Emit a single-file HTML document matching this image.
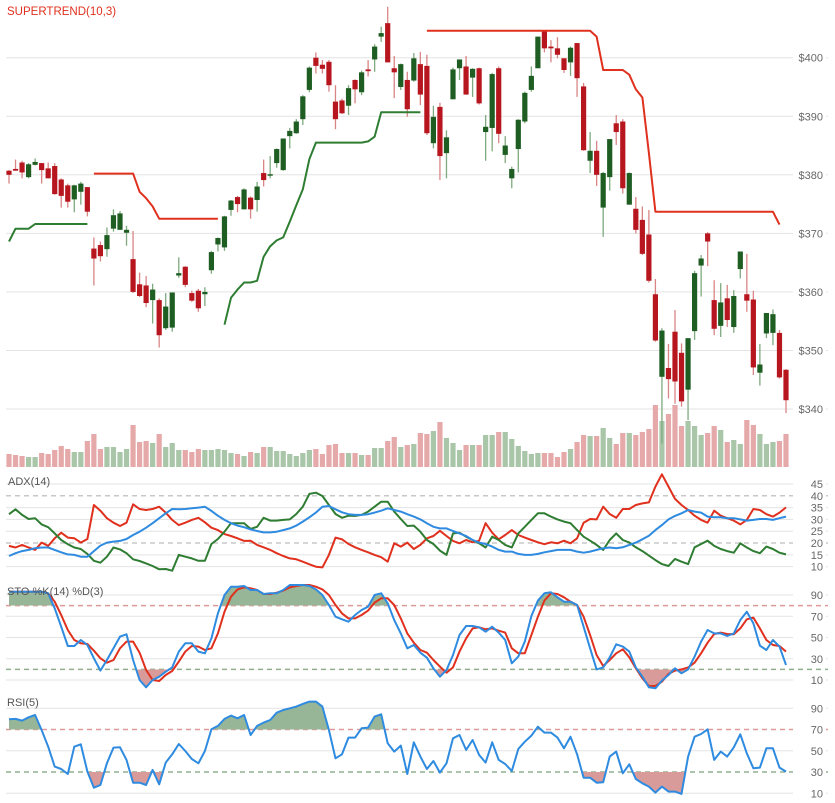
<!DOCTYPE html>
<html><head><meta charset="utf-8"><style>
html,body{margin:0;padding:0;background:#fff;}
svg{display:block;font-family:"Liberation Sans",sans-serif;}
</style></head><body>
<svg id="chart" width="835" height="803" viewBox="0 0 835 803" xmlns="http://www.w3.org/2000/svg">
<g id="grid"></g>
<g id="vol"></g>
<g id="candles"></g>
<g id="st"></g>
<g id="ind"></g>
<g id="labels"></g>
<text x="7" y="15" font-size="11.5" fill="#e0301e">SUPERTREND(10,3)</text>
<text x="8" y="485" font-size="11" fill="#555">ADX(14)</text>
<text x="7" y="595" font-size="11" fill="#555">STO %K(14) %D(3)</text>
<text x="7" y="706" font-size="11" fill="#555">RSI(5)</text>
</svg>
<script>
const open=[380.7,381.0,382.1,379.6,381.7,382.0,381.1,381.5,379.2,378.2,375.8,377.1,377.9,367.4,368.0,367.3,370.8,370.6,370.1,365.6,361.3,361.1,358.6,358.6,353.8,353.9,362.8,364.3,359.8,360.2,359.6,363.7,368.1,367.6,374.0,376.2,374.1,376.1,375.7,380.3,379.9,382.0,380.8,386.6,387.1,389.5,394.5,400.0,398.8,399.3,392.5,392.7,391.8,396.2,394.1,398.0,399.7,403.6,405.9,398.2,395.0,396.2,396.1,398.9,398.6,385.4,391.6,383.7,392.9,398.2,398.5,396.6,398.2,387.3,388.0,398.2,383.4,379.4,384.4,389.1,394.5,398.2,404.5,401.9,401.6,399.9,399.2,402.5,395.1,382.4,384.1,374.4,379.6,388.8,389.1,374.9,374.2,372.3,369.8,359.6,345.5,347.0,353.2,349.6,343.3,353.3,364.5,370.0,358.6,354.2,358.9,354.0,363.9,359.6,358.7,346.2,352.9,353.0,353.0,346.7];
const high=[380.8,382.6,382.4,382.0,382.8,382.0,382.1,382.0,379.4,378.5,378.3,378.8,377.9,369.3,368.6,371.0,374.1,373.8,371.3,370.4,363.3,362.7,361.4,358.9,359.8,359.9,365.9,364.4,360.2,360.5,360.8,367.0,369.3,373.0,375.7,376.4,377.7,376.3,378.8,382.6,383.2,384.5,386.2,388.0,389.5,393.6,398.5,400.9,399.6,399.6,395.3,393.0,395.3,396.3,397.8,399.6,402.3,405.3,408.7,400.3,399.0,397.6,400.8,401.0,400.5,391.8,392.3,387.6,398.3,399.7,400.3,398.2,398.3,390.2,397.4,398.5,386.6,381.4,389.5,394.2,398.5,403.6,404.6,403.0,403.5,399.9,401.9,402.5,395.7,387.3,385.8,380.5,386.1,390.2,389.5,380.4,376.2,374.6,374.0,362.2,353.8,351.1,356.9,351.2,352.1,363.6,366.3,370.2,362.0,361.5,361.2,360.3,366.9,366.5,360.2,351.1,356.4,357.0,353.5,346.8];
const low=[378.5,380.7,379.4,379.4,381.6,378.5,379.4,376.6,374.4,374.4,373.6,374.9,372.9,361.1,365.2,366.0,370.3,370.6,367.9,359.8,359.1,357.4,354.6,350.5,353.5,353.2,362.4,360.8,358.3,356.6,357.6,363.1,366.9,367.0,373.0,373.6,374.1,372.5,373.7,378.0,379.4,381.2,380.7,384.5,387.0,388.5,394.1,397.3,397.3,394.2,387.8,390.4,390.2,392.2,393.6,396.8,397.6,402.7,399.2,393.1,394.5,389.9,395.9,391.9,386.8,384.5,379.1,379.4,392.9,396.2,393.7,393.3,392.0,382.4,384.0,385.4,382.0,377.7,380.4,388.8,394.2,398.2,400.9,399.2,399.9,397.4,396.9,393.3,384.1,380.3,378.1,369.4,377.3,385.1,376.8,374.9,370.0,366.3,361.6,351.5,334.1,341.8,340.9,340.4,338.1,351.8,359.2,364.4,352.6,352.3,354.0,353.0,362.3,356.6,345.8,344.0,352.1,350.9,345.2,339.3];
const close=[380.0,380.7,380.4,381.8,382.2,380.8,379.4,376.7,376.4,375.4,378.2,378.5,373.7,365.7,366.1,369.7,373.1,373.4,370.6,360.0,359.3,358.1,360.4,352.6,357.5,359.9,363.2,361.2,358.5,357.2,360.0,366.8,369.2,372.9,375.6,375.0,377.5,374.1,378.0,379.1,380.1,384.4,386.2,387.5,389.1,393.4,398.3,398.6,398.1,395.3,389.5,390.5,394.8,394.6,397.5,397.7,401.9,404.2,399.2,397.5,398.9,391.2,399.9,393.7,387.1,389.9,383.2,386.4,398.0,399.7,393.7,398.1,392.2,388.2,397.2,387.0,385.0,381.0,389.4,394.0,396.9,403.6,401.6,401.6,400.5,397.9,401.7,396.5,384.2,384.1,380.0,380.3,386.1,387.3,377.7,380.3,370.6,366.5,361.9,351.7,353.4,345.1,344.7,341.3,352.1,363.2,365.7,368.6,353.7,358.2,355.2,359.3,366.9,358.5,347.1,347.6,356.4,356.2,345.4,341.5];
const volume=[13,12,11,10,10,14,13,17,21,18,15,15,26,33,18,20,20,15,18,42,25,26,24,33,20,24,17,17,15,18,17,17,18,17,14,13,11,15,14,20,20,16,16,13,11,14,17,18,13,22,23,14,14,14,12,12,19,19,26,30,20,22,23,34,33,36,45,29,24,17,22,22,22,32,32,35,35,28,21,16,13,14,14,14,10,15,18,25,32,31,31,39,29,23,34,34,32,35,38,62,46,53,62,41,46,41,32,34,41,37,25,27,23,47,42,33,23,25,26,33];
const stUp=[368.6,370.8,370.8,370.8,371.6,371.6,371.6,371.6,371.6,371.6,371.6,371.6,371.6,null,null,null,null,null,null,null,null,null,null,null,null,null,null,null,null,null,null,null,null,354.4,359.0,360.4,361.6,361.6,361.9,366.0,367.8,368.8,369.3,372.0,374.8,377.5,382.7,385.5,385.5,385.5,385.5,385.5,385.5,385.5,385.5,385.7,386.5,390.7,390.7,390.7,390.7,390.7,390.7,390.7,null,null,null,null,null,null,null,null,null,null,null,null,null,null,null,null,null,null,null,null,null,null,null,null,null,null,null,null,null,null,null,null,null,null,null,null,null,null,null,null,null,null,null,null,null,null,null,null,null,null,null,null,null,null,null,null];
const stDown=[null,null,null,null,null,null,null,null,null,null,null,null,null,380.2,380.2,380.2,380.2,380.2,380.2,380.2,377.1,376.0,374.6,372.5,372.5,372.5,372.5,372.5,372.5,372.5,372.5,372.5,372.5,null,null,null,null,null,null,null,null,null,null,null,null,null,null,null,null,null,null,null,null,null,null,null,null,null,null,null,null,null,null,null,404.6,404.6,404.6,404.6,404.6,404.6,404.6,404.6,404.6,404.6,404.6,404.6,404.6,404.6,404.6,404.6,404.6,404.6,404.6,404.6,404.6,404.6,404.6,404.6,404.6,404.6,403.6,397.9,397.9,397.9,397.9,397.1,394.6,393.2,383.7,373.7,373.7,373.7,373.7,373.7,373.7,373.7,373.7,373.7,373.7,373.7,373.7,373.7,373.7,373.7,373.7,373.7,373.7,373.7,371.5];
const adx=[14.5,15.7,16.6,17.1,17.8,18.1,18.1,17.1,16.1,15.2,15.0,14.2,14.2,16.6,18.9,20.2,20.6,20.9,21.7,23.4,24.8,26.5,28.4,30.5,32.6,34.4,34.3,34.4,34.7,35.0,35.4,33.6,31.6,29.8,28.4,27.4,26.7,25.8,25.1,24.5,24.5,24.8,25.5,26.2,27.4,29.1,30.9,32.9,35.4,35.7,34.3,33.0,32.2,31.9,31.9,32.2,32.9,33.7,34.7,34.0,33.3,32.2,31.2,30.0,28.4,26.9,26.2,26.2,25.1,24.1,23.0,21.3,20.2,19.6,18.5,17.1,16.4,16.4,15.4,15.0,15.0,15.4,16.1,16.6,17.1,17.1,17.1,16.4,15.9,16.4,17.1,17.8,18.1,17.8,18.2,19.2,20.2,21.6,23.1,25.5,27.6,30.0,31.5,32.6,34.0,33.3,32.9,31.2,30.9,30.9,30.5,30.5,30.0,29.5,29.8,30.2,30.2,29.8,30.5,31.2];
const diPlus=[32.2,34.3,31.9,30.2,30.5,27.9,26.7,24.1,21.3,19.5,18.1,17.5,15.4,12.5,11.7,14.2,18.1,17.3,15.7,13.1,12.4,11.4,10.3,8.9,9.0,8.3,15.0,14.2,13.5,12.5,12.5,19.6,21.7,24.8,28.4,28.4,28.4,26.0,26.9,30.7,29.5,29.5,29.8,30.0,32.3,35.4,40.8,41.3,39.9,36.1,32.3,30.7,31.6,31.5,31.9,33.3,35.4,37.5,37.5,33.3,30.2,27.2,27.4,24.8,21.3,19.6,16.8,15.0,24.1,24.4,22.7,21.3,19.9,18.1,22.7,21.3,19.2,18.1,24.1,26.9,29.8,32.6,32.6,31.2,30.0,29.1,28.4,25.5,22.7,21.0,19.2,17.1,21.3,24.1,21.3,20.2,18.2,16.6,14.7,12.8,11.1,10.3,13.3,12.1,11.1,18.2,19.6,21.0,18.8,17.5,16.6,15.9,19.9,18.1,16.6,15.7,18.5,17.5,15.9,15.2];
const diMinus=[18.8,18.1,19.2,18.1,17.1,20.2,18.8,22.0,24.4,22.3,22.0,20.2,21.7,36.1,33.7,30.5,28.6,27.2,28.6,36.4,34.4,34.0,34.4,35.4,32.9,29.8,27.6,28.6,29.8,30.7,28.8,26.5,25.5,23.8,23.0,22.0,20.9,21.0,19.2,18.2,17.1,15.7,14.5,13.5,13.1,12.1,11.0,10.0,9.7,15.0,22.3,21.6,19.6,18.2,17.1,16.1,15.0,14.0,12.1,19.9,18.5,20.2,17.5,19.2,22.0,23.0,25.2,23.0,20.9,19.9,21.3,20.3,21.0,28.4,24.4,21.6,23.4,25.5,23.4,22.3,21.3,20.3,19.5,20.3,19.9,21.0,19.9,22.0,28.6,30.2,30.0,35.4,32.3,30.7,34.4,34.4,36.1,36.8,37.2,43.9,49.1,43.9,38.7,36.1,34.0,31.6,29.8,28.6,33.7,31.6,30.5,29.5,27.9,29.8,34.4,34.0,32.2,31.2,32.9,35.1];
const stoK=[93.1,93.1,93.1,93.1,93.1,93.1,91.6,77.5,60.2,42.0,42.0,47.6,42.9,30.4,18.8,28.8,39.8,50.8,53.0,28.8,10.0,3.1,10.0,13.1,17.8,21.9,36.7,44.5,44.5,36.7,35.1,49.2,72.7,90.0,97.8,97.8,98.5,94.7,94.7,90.9,91.6,91.6,94.7,99.4,99.4,99.4,98.5,95.3,90.0,80.6,69.6,67.1,64.9,71.2,75.9,79.0,90.0,91.6,82.2,66.5,53.9,39.8,42.9,35.7,31.0,21.0,13.1,19.4,33.5,52.4,60.8,60.8,59.6,55.5,60.2,54.6,47.6,25.7,32.0,46.1,70.2,84.7,91.6,92.5,87.8,83.7,83.7,80.6,60.2,39.8,20.0,21.9,31.3,43.6,41.4,36.7,21.9,13.1,3.1,2.2,9.4,14.7,21.0,16.3,20.0,32.0,46.1,57.1,53.9,53.9,51.4,53.9,66.5,74.3,63.3,42.3,38.2,47.6,41.4,24.1];
const stoD=[93.1,93.1,93.1,93.1,93.1,93.1,91.6,83.7,71.2,57.1,47.6,44.5,43.9,37.6,30.4,26.3,28.8,39.8,46.1,46.1,35.7,19.4,10.0,9.1,14.7,18.5,27.3,36.7,42.0,41.4,38.2,39.8,53.9,74.3,88.4,95.3,97.2,96.3,94.7,90.9,90.9,92.2,94.1,97.2,98.5,99.4,99.4,97.8,95.3,90.0,80.6,72.7,68.0,68.0,71.2,75.3,82.8,86.9,86.9,80.6,68.0,53.9,45.1,38.2,35.7,28.8,22.6,16.9,21.9,36.7,49.2,58.6,59.6,57.7,58.6,56.4,54.6,39.8,35.1,35.1,52.4,69.6,84.7,91.6,90.9,87.8,83.7,80.6,69.6,52.4,33.5,23.2,28.8,35.1,38.9,31.3,21.0,11.6,4.4,4.4,8.4,15.7,18.8,20.0,21.9,26.3,35.1,45.1,53.3,54.6,53.3,53.0,58.6,67.1,68.7,58.6,47.6,42.9,42.0,36.7];
const rsi=[79.6,80.0,78.4,81.5,83.7,69.6,53.9,35.1,32.9,28.2,53.9,56.1,30.4,15.3,17.8,38.2,53.0,53.3,41.4,20.0,20.0,17.8,32.0,18.5,38.9,46.7,56.4,49.8,42.3,38.2,49.8,70.2,73.4,80.0,83.1,80.6,83.7,64.9,73.4,76.5,79.0,85.9,88.4,90.0,91.6,94.1,96.3,96.3,91.6,69.6,42.9,46.7,62.4,62.4,71.2,71.8,82.2,84.4,57.1,49.2,54.9,28.2,58.0,44.5,32.9,40.4,29.5,38.2,61.8,64.9,50.8,60.2,46.1,38.9,58.0,41.4,37.6,31.0,51.7,58.6,64.3,72.7,67.1,67.1,62.4,52.4,63.3,46.7,24.7,24.7,20.0,20.4,44.5,49.2,28.8,37.3,23.5,19.4,16.3,10.6,16.3,11.6,11.6,9.4,44.5,63.3,65.8,70.2,41.4,49.2,44.5,53.3,65.5,47.6,33.5,34.2,52.4,52.4,34.2,30.4];
const priceTicks=[400,390,380,370,360,350,340];
const adxTicks=[45,40,35,30,25,20,15,10];
const stoTicks=[90,70,50,30,10];
const rsiTicks=[90,70,50,30,10];

const NS='http://www.w3.org/2000/svg';
const X0=9, DX=(786-9)/119;
const xOf=i=>X0+i*DX;
const yP=p=>57.7+(400-p)*5.855;
const yA=v=>484+(45-v)*2.362;
const yS=v=>595+(90-v)*1.0625;
const yR=v=>708.3+(90-v)*1.0625;
const VOL_BASE=467;
function mk(tag,attrs,parent){const e=document.createElementNS(NS,tag);for(const k in attrs)e.setAttribute(k,attrs[k]);parent.appendChild(e);return e;}
const G=document.getElementById('grid'),L=document.getElementById('labels');

function hline(y,dashed,color,name){
  const l=mk('line',{x1:6,x2:828,y1:y,y2:y,stroke:color,'stroke-width':dashed?1.5:1},G);
  if(dashed)l.setAttribute('stroke-dasharray','5,4');
  
  
}
function label(txt,y,name){
  const r=mk('rect',{x:793,y:y-7,width:33,height:13,fill:'#fff'},L);
  
  
  const t=mk('text',{x:823,y:y+4,'font-size':11,fill:'#666','text-anchor':'end'},L);
  t.textContent=txt;
  
  
}
priceTicks.forEach(p=>{hline(yP(p),false,'#e3e3e3','price-gridline');label('$'+p,yP(p),'price-tick-label');});
adxTicks.forEach(v=>{const d=(v===40||v===20);hline(yA(v),d,d?'#c8c8c8':'#e3e3e3','adx-gridline');label(String(v),yA(v),'adx-tick-label');});
stoTicks.forEach(v=>{hline(yS(v),false,'#e3e3e3','sto-gridline');label(String(v),yS(v),'sto-tick-label');});
hline(yS(80),true,'#e09a9a','sto-overbought-line');hline(yS(20),true,'#8fb08f','sto-oversold-line');
rsiTicks.forEach(v=>{if(v!==70&&v!==30)hline(yR(v),false,'#e3e3e3','rsi-gridline');label(String(v),yR(v),'rsi-tick-label');});
hline(yR(70),true,'#e09a9a','rsi-overbought-line');hline(yR(30),true,'#8fb08f','rsi-oversold-line');

// volume
const V=document.getElementById('vol');
volume.forEach((v,i)=>{
  const up=close[i]>=open[i];
  const r=mk('rect',{x:xOf(i)-2.6,y:VOL_BASE-v,width:5.2,height:v,fill:up?'#a9c6a9':'#e6a9a9'},V);
  
  
});
// candles
const C=document.getElementById('candles');
open.forEach((o,i)=>{
  const c=close[i],up=c>=o,x=xOf(i);
  const w=mk('line',{x1:x,x2:x,y1:yP(high[i]),y2:yP(low[i]),stroke:up?'#7fa97f':'#d98585','stroke-width':1.3},C);
  
  
  const top=yP(Math.max(o,c)),bot=yP(Math.min(o,c));
  const b=mk('rect',{x:x-2.6,y:top,width:5.2,height:Math.max(1.5,bot-top),fill:up?'#1e5e22':'#b7161f'},C);
  
  
});
// polyline helper with null breaks
function drawSeries(arr,yf,color,parent,name,width){
  let seg=[];
  const flush=()=>{if(seg.length>1){const p=mk('polyline',{points:seg.join(' '),fill:'none',stroke:color,'stroke-width':width||2,'stroke-linejoin':'round'},parent);}seg=[];};
  arr.forEach((v,i)=>{if(v===null||v===undefined){flush();}else seg.push(xOf(i).toFixed(1)+','+yf(v).toFixed(1));});
  flush();
}
const ST=document.getElementById('st');
drawSeries(stUp,yP,'#2e7d32',ST,'supertrend-up-line');
drawSeries(stDown,yP,'#e0301e',ST,'supertrend-down-line');

const I=document.getElementById('ind');
let clipId=0;
function fillBand(arr,yf,thr,above,color,name){
  const id='clip'+(clipId++);
  const cp=mk('clipPath',{id:id},I);
  const ty=yf(thr);
  mk('rect',above?{x:0,y:0,width:835,height:ty}:{x:0,y:ty,width:835,height:803-ty},cp);
  const pts=arr.map((v,i)=>xOf(i).toFixed(1)+','+yf(v).toFixed(1));
  pts.push(xOf(arr.length-1).toFixed(1)+','+ty);pts.unshift(xOf(0).toFixed(1)+','+ty);
  const p=mk('polygon',{points:pts.join(' '),fill:color,'clip-path':'url(#'+id+')'},I);
  
  
}
// ADX
drawSeries(diMinus,yA,'#e0301e',I,'adx-di-minus-line');
drawSeries(diPlus,yA,'#2e7d32',I,'adx-di-plus-line');
drawSeries(adx,yA,'#2e8be0',I,'adx-line');
// STO
fillBand(stoK,yS,80,true,'#97b597','sto-overbought-fill');
fillBand(stoK,yS,20,false,'#d99a9a','sto-oversold-fill');
drawSeries(stoD,yS,'#e0301e',I,'sto-d-line');
drawSeries(stoK,yS,'#2e8be0',I,'sto-k-line');
// RSI
fillBand(rsi,yR,70,true,'#97b597','rsi-overbought-fill');
fillBand(rsi,yR,30,false,'#d99a9a','rsi-oversold-fill');
drawSeries(rsi,yR,'#2e8be0',I,'rsi-line');
</script>
</body></html>
